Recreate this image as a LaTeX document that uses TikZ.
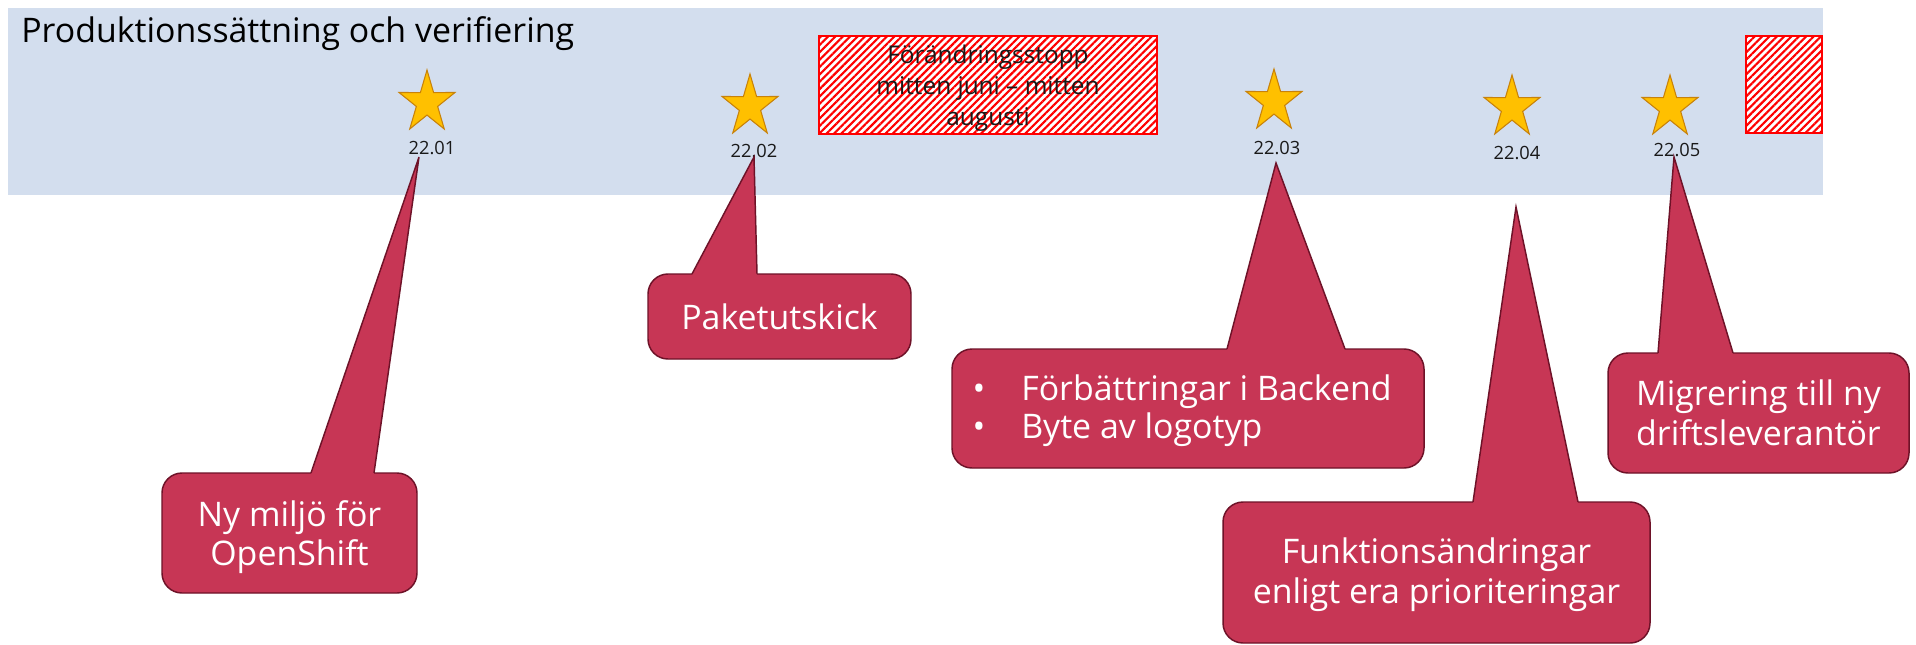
\documentclass[tikz,border=0pt]{standalone}
\usepackage{fontspec}
\setmainfont{Open Sans}
\usetikzlibrary{patterns.meta,fit,calc}
\definecolor{bandblue}{RGB}{211,222,238}
\definecolor{calloutfill}{RGB}{199,54,85}
\definecolor{calloutedge}{RGB}{110,18,40}
\definecolor{starfill}{RGB}{255,192,0}
\definecolor{staredge}{RGB}{200,130,10}
\tikzset{
 callbox/.style={draw=calloutedge, fill=calloutfill, line width=1.1pt, rounded corners=15pt, inner sep=0pt, outer sep=0pt},
 ptrfill/.style={fill=calloutfill},
 ptredge/.style={draw=calloutedge, line width=1.1pt, line join=miter},
 ctext/.style={text=white, font=\fontsize{25.4}{30}\selectfont, inner sep=0pt, anchor=base},
 lbl/.style={font=\fontsize{13.7}{16}\selectfont, text=black!90, inner sep=0pt, anchor=base},
 ftext/.style={font=\fontsize{18.3}{22}\selectfont, text=black!90, inner sep=0pt, anchor=base},
 freeze/.style={draw=red, line width=1.5pt, preaction={fill=white}, pattern={Lines[angle=45,distance=3.9pt,line width=1.6pt]}, pattern color=red, inner sep=0pt, outer sep=0pt},
 pics/mstar/.style={code={\draw[fill=starfill, draw=staredge, line width=0.8pt, xscale=0.9] (-90:32.6) -- (-54:12.45) -- (-18:32.6) -- (18:12.45) -- (54:32.6) -- (90:12.45) -- (126:32.6) -- (162:12.45) -- (198:32.6) -- (234:12.45) -- cycle;}}
}
\begin{document}
\begin{tikzpicture}[x=0.75pt, y=-0.75pt]
\useasboundingbox[fill=white] (0,0) rectangle (1916,644);
% band
\node[fill=bandblue, inner sep=0pt, outer sep=0pt, fit={(8,8) (1823,195)}] (band) {};
\node[font=\fontsize{25.4}{30}\selectfont, inner sep=0pt, anchor=base west] (title) at (21,42) {Produktionssättning och verifiering};
% freeze boxes
\node[freeze, fit={(819,36) (1157,134)}] (fz1) {};
\node[ftext] (fz1a) at (988,63) {Förändringsstopp};
\node[ftext] (fz1b) at (988,94) {mitten juni – mitten};
\node[ftext] (fz1c) at (988,125) {augusti};
\node[freeze, fit={(1746,36) (1822,133)}] (fz2) {};
% stars
\pic (s1) at (427,102.6) {mstar};
\pic (s2) at (750,106.6) {mstar};
\pic (s3) at (1274,101.6) {mstar};
\pic (s4) at (1512,107.6) {mstar};
\pic (s5) at (1670,107.6) {mstar};
\node[lbl] (l1) at (432,154) {22.01};
\node[lbl] (l2) at (754,157) {22.02};
\node[lbl] (l3) at (1277,154) {22.03};
\node[lbl] (l4) at (1517,159) {22.04};
\node[lbl] (l5) at (1677,156) {22.05};
% pointer tips
\coordinate (tip1) at (419,157);
\coordinate (tip2) at (754,157);
\coordinate (tip3) at (1276,163);
\coordinate (tip4) at (1516,207);
\coordinate (tip5) at (1674,157);
% callout boxes
\node[callbox, fit={(162,473) (417,593)}] (b1) {};
\node[callbox, fit={(648,274) (911,359)}] (b2) {};
\node[callbox, fit={(952,349) (1424,468)}] (b3) {};
\node[callbox, fit={(1223,502) (1650,643)}] (b4) {};
\node[callbox, fit={(1608,353) (1909,473)}] (b5) {};
% pointers
\fill[ptrfill] ($(b1.north west)+(149,1)$) -- (tip1) -- ($(b1.north west)+(212,1)$) -- cycle;
\draw[ptredge] ($(b1.north west)+(149,0)$) -- (tip1) -- ($(b1.north west)+(212,0)$);
\fill[ptrfill] ($(b2.north west)+(44,1)$) -- (tip2) -- ($(b2.north west)+(109,1)$) -- cycle;
\draw[ptredge] ($(b2.north west)+(44,0)$) -- (tip2) -- ($(b2.north west)+(109,0)$);
\fill[ptrfill] ($(b3.north west)+(275,1)$) -- (tip3) -- ($(b3.north west)+(393,1)$) -- cycle;
\draw[ptredge] ($(b3.north west)+(275,0)$) -- (tip3) -- ($(b3.north west)+(393,0)$);
\fill[ptrfill] ($(b4.north west)+(250,1)$) -- (tip4) -- ($(b4.north west)+(355,1)$) -- cycle;
\draw[ptredge] ($(b4.north west)+(250,0)$) -- (tip4) -- ($(b4.north west)+(355,0)$);
\fill[ptrfill] ($(b5.north west)+(50,1)$) -- (tip5) -- ($(b5.north west)+(125,1)$) -- cycle;
\draw[ptredge] ($(b5.north west)+(50,0)$) -- (tip5) -- ($(b5.north west)+(125,0)$);
% callout texts
\node[ctext] (t1a) at (289.5,526) {Ny miljö för};
\node[ctext] (t1b) at (289.5,565) {OpenShift};
\node[ctext] (t2a) at (779.5,329) {Paketutskick};
\node[ctext] (t3bul1) at (979,400) {•};
\node[ctext] (t3bul2) at (979,438) {•};
\node[ctext, anchor=base west] (t3a) at (1021,400) {Förbättringar i Backend};
\node[ctext, anchor=base west] (t3b) at (1021,438) {Byte av logotyp};
\node[ctext] (t4a) at (1436.5,563) {Funktionsändringar};
\node[ctext] (t4b) at (1436.5,603) {enligt era prioriteringar};
\node[ctext] (t5a) at (1758.5,405) {Migrering till ny};
\node[ctext] (t5b) at (1758.5,445) {driftsleverantör};
\end{tikzpicture}
\end{document}
